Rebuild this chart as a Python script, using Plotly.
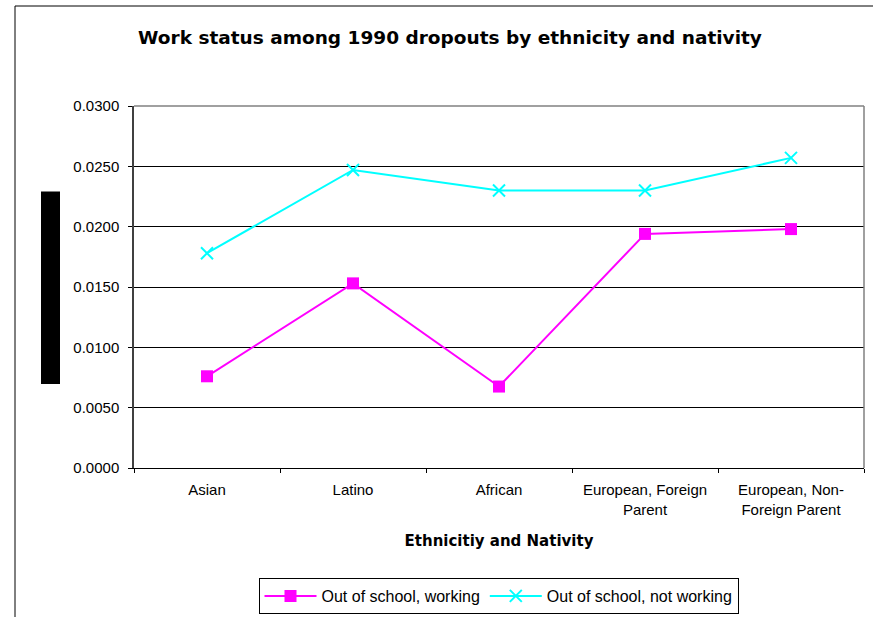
import plotly.graph_objects as go

categories = ["Asian", "Latino", "African", "European, Foreign<br>Parent", "European, Non-<br>Foreign Parent"]
working = [0.0076, 0.0153, 0.00675, 0.0194, 0.0198]
not_working = [0.0178, 0.0247, 0.0230, 0.0230, 0.0257]
y_ticks = [0.0, 0.005, 0.010, 0.015, 0.020, 0.025, 0.030]

FONT = "Liberation Sans, Arial, sans-serif"
BOLD_FONT = "DejaVu Sans, Liberation Sans, sans-serif"

fig = go.Figure()
fig.add_trace(go.Scatter(
    x=categories, y=working, name="Out of school, working",
    mode="lines+markers",
    line=dict(color="#FF00FF", width=2),
    marker=dict(symbol="square", size=12, color="#FF00FF"),
))
fig.add_trace(go.Scatter(
    x=categories, y=not_working, name="Out of school, not working",
    mode="lines+markers",
    line=dict(color="#00FFFF", width=2),
    marker=dict(symbol="x-thin", size=12, color="#00FFFF",
                line=dict(color="#00FFFF", width=2)),
))

# plot area: x 134..864 px, y 106..468 px
L, R, T, B = 134, 864, 106, 468
W, H = R - L, B - T


def px_x(p):
    return (p - L) / W


def px_y(p):
    return (B - p) / H


shapes = [
    # outer chart frame
    dict(type="rect", xref="paper", yref="paper",
         x0=px_x(15), x1=px_x(1000), y0=px_y(800), y1=px_y(6),
         line=dict(color="black", width=1), layer="below"),
    # top and right border of plot area
    dict(type="line", xref="paper", yref="paper", x0=0, x1=1, y0=1, y1=1,
         line=dict(color="#808080", width=1.5), layer="above"),
    dict(type="line", xref="paper", yref="paper", x0=1, x1=1, y0=0, y1=1,
         line=dict(color="#808080", width=1.5), layer="above"),
    # filled block beside the value axis
    dict(type="rect", xref="paper", yref="paper",
         x0=px_x(41), x1=px_x(60), y0=px_y(384), y1=px_y(191.5),
         fillcolor="black", line=dict(width=0)),
]

fig.update_layout(
    width=873, height=617,
    margin=dict(l=L, r=873 - R, t=T, b=617 - B, autoexpand=False),
    paper_bgcolor="white", plot_bgcolor="white",
    font=dict(family=FONT, size=15, color="black"),
    title=dict(text="<b>Work status among 1990 dropouts by ethnicity and nativity</b>",
               x=px_x(450), xref="paper", xanchor="center",
               y=1 - 38 / 617, yanchor="middle",
               font=dict(family=BOLD_FONT, size=18.5, color="black")),
    shapes=shapes,
    showlegend=True,
    legend=dict(orientation="h", x=px_x(498.5), xanchor="center",
                y=px_y(578), yanchor="top",
                bordercolor="black", borderwidth=1,
                font=dict(family=FONT, size=16, color="black"),
                itemwidth=52, tracegroupgap=0),
)

fig.update_xaxes(
    type="category",
    range=[-0.5, 4.5],
    automargin=False,
    showgrid=False, zeroline=False,
    showline=True, linecolor="black", linewidth=1,
    ticks="outside", tickson="boundaries", ticklen=4, tickcolor="black",
    ticklabelstandoff=8,
    tickfont=dict(family=FONT, size=15, color="black"),
    title=dict(text="<b>Ethnicitiy and Nativity</b>", standoff=18,
               font=dict(family=BOLD_FONT, size=15, color="black")),
)
fig.update_yaxes(
    range=[0, 0.030],
    automargin=False,
    tickvals=y_ticks, tickformat=".4f",
    showgrid=True, gridcolor="black", gridwidth=1,
    zeroline=False,
    showline=True, linecolor="#404040", linewidth=1.5,
    ticks="outside", ticklen=4, tickcolor="black",
    ticklabelstandoff=6,
    tickfont=dict(family=FONT, size=15, color="black"),
)

fig.write_html("out.html")
